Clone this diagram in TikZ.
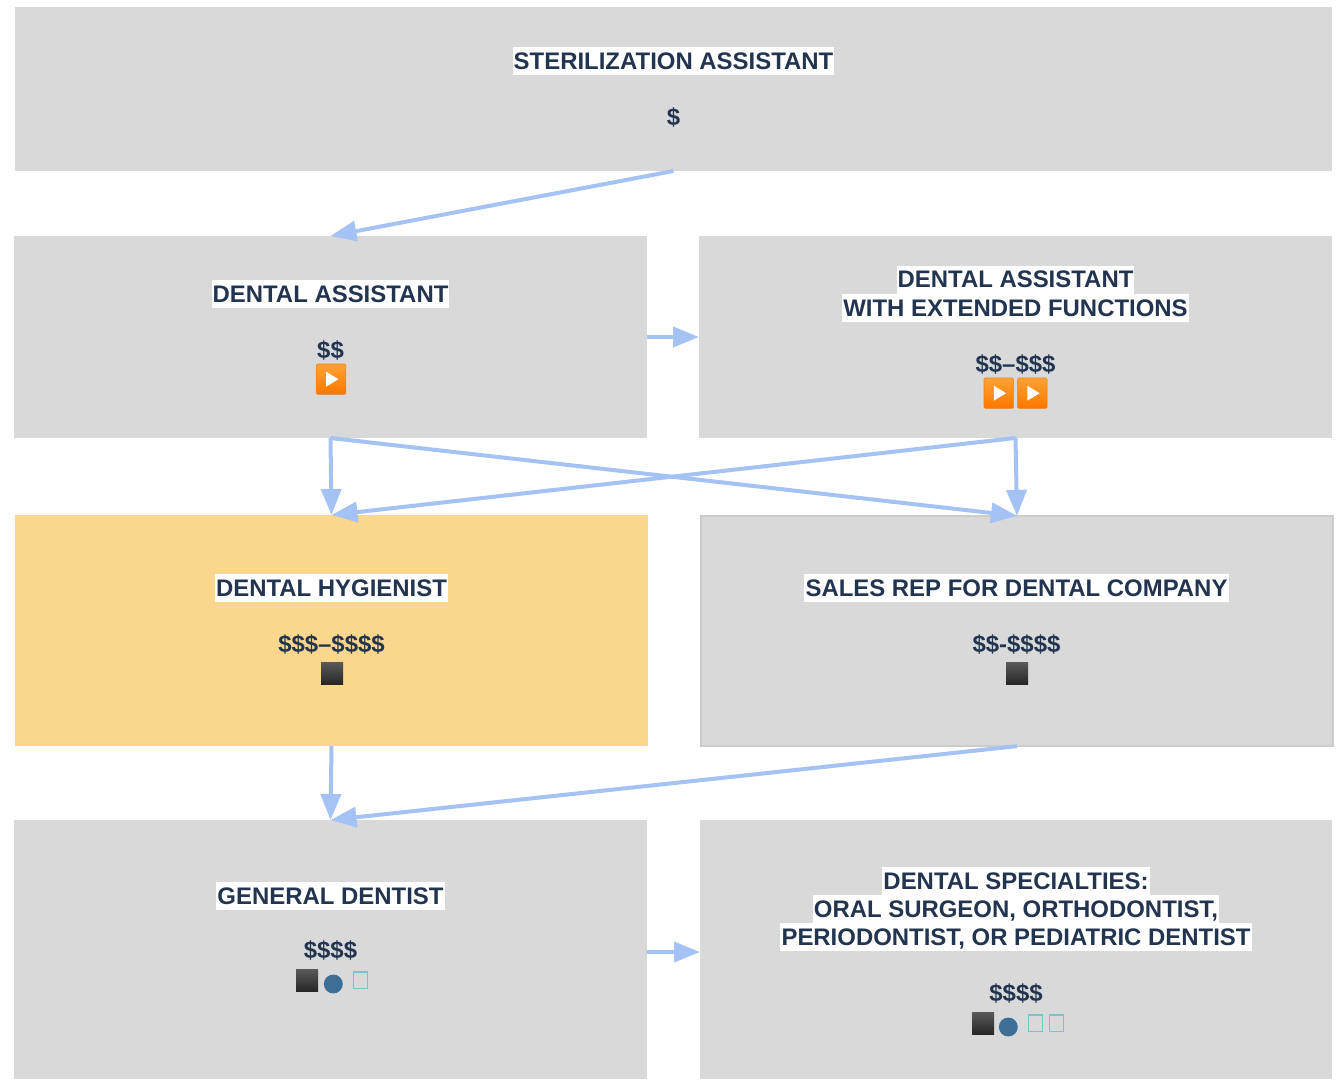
\documentclass[tikz,border=0pt]{standalone}
\usepackage{fontspec}
\setmainfont{Liberation Sans}
\usetikzlibrary{arrows.meta,calc}
\definecolor{boxgrey}{HTML}{D9D9D9}
\definecolor{boxgold}{HTML}{FBD68D}
\definecolor{inkblue}{HTML}{233450}
\definecolor{linkblue}{HTML}{A4C2F4}
\definecolor{edgegrey}{HTML}{CCCCCC}
\definecolor{dotblue}{HTML}{3D6E96}
\definecolor{tealedge}{HTML}{79C4CB}
\definecolor{playtop}{HTML}{FFA235}
\definecolor{playbot}{HTML}{FF7600}
\definecolor{playedge}{HTML}{E8821E}
\definecolor{blacktop}{HTML}{5A5A5A}
\definecolor{blackbot}{HTML}{272727}
\tikzset{
  card/.style={fill=boxgrey,draw=none,inner sep=0pt,outer sep=0pt},
  goldcard/.style={fill=boxgold,draw=none,inner sep=0pt,outer sep=0pt},
  title/.style={fill=white,text=inkblue,font=\fontsize{17.95pt}{21pt}\bfseries\selectfont,inner ysep=0pt,inner xsep=0.8pt,text height=16.5pt,text depth=4.5pt,anchor=center},
  price/.style={text=inkblue,font=\fontsize{17.95pt}{21pt}\bfseries\selectfont,inner sep=0pt,text height=16.5pt,text depth=4.5pt,anchor=center},
  link/.style={draw=linkblue,line width=3pt,-{Triangle[length=19.5pt,width=15pt]}},
}
\newcommand{\playicon}[3]{% name, left, top
  \node[inner sep=0pt,outer sep=0pt,minimum width=22.2pt,minimum height=22.8pt,rounded corners=1pt,draw=playedge,line width=0.4pt,top color=playtop,bottom color=playbot,anchor=north west] (#1) at (#2,#3) {};
  \fill[white] ($(#1.center)+(-3.75pt,5.6pt)$) -- ($(#1.center)+(5.5pt,0pt)$) -- ($(#1.center)+(-3.75pt,-5.6pt)$) -- cycle;
}
\newcommand{\blackicon}[3]{%
  \node[inner sep=0pt,outer sep=0pt,minimum width=16.5pt,minimum height=16.5pt,top color=blacktop,bottom color=blackbot,anchor=north west] (#1) at (#2,#3) {};
}
\newcommand{\doticon}[3]{%
  \node[circle,inner sep=0pt,outer sep=0pt,minimum size=14.2pt,fill=dotblue] (#1) at (#2,#3) {};
}
\newcommand{\boxicon}[3]{%
  \node[inner sep=0pt,outer sep=0pt,minimum width=10.3pt,minimum height=12.3pt,draw=tealedge,line width=0.85pt,anchor=north west] (#1) at (#2,#3) {};
}
\begin{document}
\begin{tikzpicture}[x=0.75pt,y=-0.75pt]
\useasboundingbox (0,0) rectangle (1337,1080);
% cards
\node[card,minimum width=987.75pt,minimum height=123pt] (sa) at (673.5,89) {};
\node[card,minimum width=474.75pt,minimum height=151.5pt] (da) at (330.5,337) {};
\node[card,minimum width=474.75pt,minimum height=151.5pt] (dae) at (1015.5,337) {};
\node[goldcard,minimum width=474.75pt,minimum height=173.25pt] (dh) at (331.5,630.5) {};
\node[card,draw=edgegrey,line width=1.5pt,minimum width=474.2pt,minimum height=172.7pt] (sr) at (1017,631) {};
\node[card,minimum width=474.75pt,minimum height=194.25pt] (gd) at (330.5,949.5) {};
\node[card,minimum width=474pt,minimum height=194.25pt] (ds) at (1016,949.5) {};
% texts
\node[title] (t1) at (673.5,61.5) {STERILIZATION ASSISTANT};
\node[price] (p1) at (673.5,117.5) {\$};
\node[title] (t2) at (330.5,294) {DENTAL ASSISTANT};
\node[price] (p2) at (330.5,350) {\$\$};
\node[title] (t3a) at (1015.5,280) {DENTAL ASSISTANT};
\node[title] (t3b) at (1015.5,308) {WITH EXTENDED FUNCTIONS};
\node[price] (p3) at (1015.5,364) {\$\$–\$\$\$};
\node[title] (t4) at (331.5,588) {DENTAL HYGIENIST};
\node[price] (p4) at (331.5,644) {\$\$\$–\$\$\$\$};
\node[title] (t5) at (1016.5,588) {SALES REP FOR DENTAL COMPANY};
\node[price] (p5) at (1016.5,644) {\$\$-\$\$\$\$};
\node[title] (t6) at (330.5,896) {GENERAL DENTIST};
\node[price] (p6) at (330.5,950) {\$\$\$\$};
\node[title] (t7a) at (1016,881) {DENTAL SPECIALTIES:};
\node[title] (t7b) at (1016,909) {ORAL SURGEON, ORTHODONTIST,};
\node[title] (t7c) at (1016,937) {PERIODONTIST, OR PEDIATRIC DENTIST};
\node[price] (p7) at (1016,993) {\$\$\$\$};
% icons
\playicon{i1}{316.3}{364}
\playicon{i2}{984}{378}
\playicon{i3}{1017.5}{378}
\blackicon{i4}{321}{662}
\blackicon{i5}{1006}{662}
\blackicon{i6}{296}{969}
\doticon{i7}{333.3}{984}
\boxicon{i8}{353.5}{972}
\blackicon{i9}{972}{1012}
\doticon{i10}{1008.3}{1027}
\boxicon{i11}{1028.5}{1015}
\boxicon{i12}{1049.5}{1015}
% connectors
\draw[link] (sa.south) -- (da.north);
\draw[link] (da.east) -- (dae.west);
\draw[link] (da.south) -- (dh.north);
\draw[link] (da.south) -- (sr.north);
\draw[link] (dae.south) -- (dh.north);
\draw[link] (dae.south) -- (sr.north);
\draw[link] (dh.south) -- (gd.north);
\draw[link] (sr.south) -- (gd.north);
\draw[link] ([yshift=-1.9pt]gd.east) -- ([yshift=-1.9pt]ds.west);
\end{tikzpicture}
\end{document}
